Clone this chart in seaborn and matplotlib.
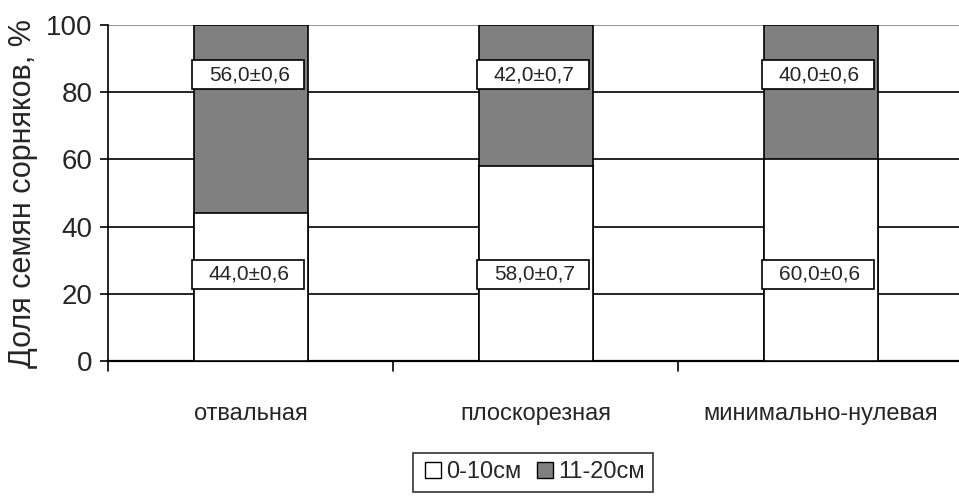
import matplotlib
matplotlib.use("Agg")
import matplotlib.pyplot as plt
import seaborn as sns
import pandas as pd
from matplotlib.lines import Line2D
from matplotlib.patches import Rectangle

categories = ["отвальная", "плоскорезная", "минимально-нулевая"]
layer_0_10 = [44.0, 58.0, 60.0]
layer_11_20 = [56.0, 42.0, 40.0]
err_0_10 = [0.6, 0.7, 0.6]
err_11_20 = [0.6, 0.7, 0.6]
series_names = ["0-10см", "11-20см"]
yticks = [0, 20, 40, 60, 80, 100]

sns.set_theme(style="white")
plt.rcParams["font.family"] = ["Liberation Sans", "DejaVu Sans"]

df = pd.DataFrame({"cat": categories,
                   "low": layer_0_10,
                   "total": [a + b for a, b in zip(layer_0_10, layer_11_20)]})

fig = plt.figure(figsize=(9.59, 5.0), dpi=100)
ax = fig.add_axes([108 / 959, 139 / 500, 855 / 959, 336 / 500])

BW = 0.40
sns.barplot(data=df, x="cat", y="total", color="#808080", edgecolor="black",
            linewidth=1.2, width=BW, saturation=1, ax=ax, zorder=3)
sns.barplot(data=df, x="cat", y="low", color="white", edgecolor="black",
            linewidth=1.2, width=BW, saturation=1, ax=ax, zorder=3)

ax.set_xlim(-0.5, 2.5)
ax.set_ylim(0, 100)
ax.set_yticks(yticks)
ax.yaxis.grid(True, color="black", linewidth=1.2, zorder=0)
ax.get_ygridlines()[-1].set_color("#808080")
ax.set_axisbelow(True)
for s in ["top", "right"]:
    ax.spines[s].set_visible(False)
ax.spines["left"].set_color("black")
ax.spines["bottom"].set_color("black")
ax.spines["left"].set_linewidth(1.2)
ax.spines["bottom"].set_linewidth(1.6)

ax.tick_params(axis="y", which="both", left=True, length=6, width=1.2,
               color="black", labelsize=20, pad=5)
ax.set_xticks([0, 1, 2])
ax.set_xticklabels(categories, fontsize=17)
ax.tick_params(axis="x", bottom=False, pad=24)
for xb in [-0.5, 0.5, 1.5]:
    ax.plot([xb, xb], [0, -3], color="black", lw=1.2, clip_on=False,
            transform=ax.transData)

ax.set_xlabel("")
ax.set_ylabel("Доля семян сорняков, %", fontsize=22, labelpad=6)

box_w = 0.393
box_h = 8.7
for i in range(len(categories)):
    for yc, val, err in [(25.8, layer_0_10[i], err_0_10[i]),
                         (85.2, layer_11_20[i], err_11_20[i])]:
        ax.add_patch(Rectangle((i - BW / 2 - 0.004, yc - box_h / 2), box_w, box_h,
                               facecolor="white", edgecolor="black", linewidth=1.2,
                               zorder=5))
        ax.text(i - 0.004, yc, f"{val:.1f}±{err:.1f}".replace(".", ","),
                ha="center", va="center", fontsize=15, zorder=6)

handles = [Line2D([], [], marker="s", ls="none", markersize=11,
                  markerfacecolor=c, markeredgecolor="black", markeredgewidth=1)
           for c in ["white", "#808080"]]
leg = fig.legend(handles, series_names, loc="upper center", ncol=2,
                 bbox_to_anchor=(0.556, 1 - 453 / 500), frameon=True, fancybox=False,
                 fontsize=17, handletextpad=0.05, columnspacing=0.5,
                 handlelength=1.0, borderpad=0.35, borderaxespad=0.0)
leg.get_frame().set_edgecolor("black")
leg.get_frame().set_linewidth(1.2)

fig.savefig("out.png", dpi=100)
